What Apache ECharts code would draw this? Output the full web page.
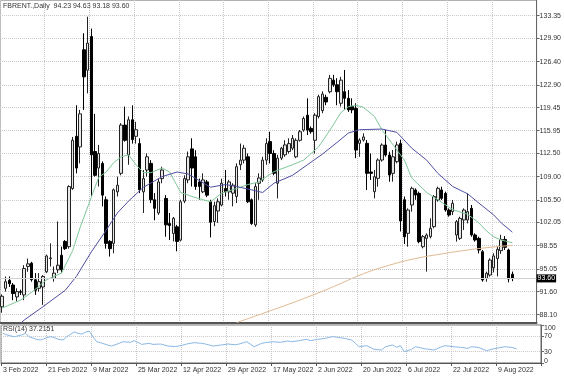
<!DOCTYPE html>
<html lang="en">
<head>
<meta charset="UTF-8">
<title>FBRENT Daily</title>
<style>
  html, body { margin: 0; padding: 0; background: #fff; }
  #main { width: 564px; height: 376px; }
</style>
<script src="https://cdn.jsdelivr.net/npm/echarts@6/dist/echarts.min.js"></script>
</head>
<body>
<div id="main"></div>
<script>
// one bar per trading day, 3 Feb - 16 Aug 2022
var barDates = [
  '3 Feb 2022','4 Feb 2022','7 Feb 2022','8 Feb 2022','9 Feb 2022','10 Feb 2022','11 Feb 2022','14 Feb 2022','15 Feb 2022','16 Feb 2022',
  '17 Feb 2022','18 Feb 2022','21 Feb 2022','22 Feb 2022','23 Feb 2022','24 Feb 2022','25 Feb 2022','28 Feb 2022','1 Mar 2022','2 Mar 2022',
  '3 Mar 2022','4 Mar 2022','7 Mar 2022','8 Mar 2022','9 Mar 2022','10 Mar 2022','11 Mar 2022','14 Mar 2022','15 Mar 2022','16 Mar 2022',
  '17 Mar 2022','18 Mar 2022','21 Mar 2022','22 Mar 2022','23 Mar 2022','24 Mar 2022','25 Mar 2022','28 Mar 2022','29 Mar 2022','30 Mar 2022',
  '31 Mar 2022','1 Apr 2022','4 Apr 2022','5 Apr 2022','6 Apr 2022','7 Apr 2022','8 Apr 2022','11 Apr 2022','12 Apr 2022','13 Apr 2022',
  '14 Apr 2022','18 Apr 2022','19 Apr 2022','20 Apr 2022','21 Apr 2022','22 Apr 2022','25 Apr 2022','26 Apr 2022','27 Apr 2022','28 Apr 2022',
  '29 Apr 2022','2 May 2022','3 May 2022','4 May 2022','5 May 2022','6 May 2022','9 May 2022','10 May 2022','11 May 2022','12 May 2022',
  '13 May 2022','16 May 2022','17 May 2022','18 May 2022','19 May 2022','20 May 2022','23 May 2022','24 May 2022','25 May 2022','26 May 2022',
  '27 May 2022','30 May 2022','31 May 2022','1 Jun 2022','2 Jun 2022','3 Jun 2022','6 Jun 2022','7 Jun 2022','8 Jun 2022','9 Jun 2022',
  '10 Jun 2022','13 Jun 2022','14 Jun 2022','15 Jun 2022','16 Jun 2022','17 Jun 2022','20 Jun 2022','21 Jun 2022','22 Jun 2022','23 Jun 2022',
  '24 Jun 2022','27 Jun 2022','28 Jun 2022','29 Jun 2022','30 Jun 2022','1 Jul 2022','4 Jul 2022','5 Jul 2022','6 Jul 2022','7 Jul 2022',
  '8 Jul 2022','11 Jul 2022','12 Jul 2022','13 Jul 2022','14 Jul 2022','15 Jul 2022','18 Jul 2022','19 Jul 2022','20 Jul 2022','21 Jul 2022',
  '22 Jul 2022','25 Jul 2022','26 Jul 2022','27 Jul 2022','28 Jul 2022','29 Jul 2022','1 Aug 2022','2 Aug 2022','3 Aug 2022','4 Aug 2022',
  '5 Aug 2022','8 Aug 2022','9 Aug 2022','10 Aug 2022','11 Aug 2022','12 Aug 2022','15 Aug 2022','16 Aug 2022'
];

var opens = [
  89.3,92.1,93.3,92.6,90.8,91.6,91.1,95.4,95.9,93.4,
  92.1,92.3,94.6,96.6,93.6,94.9,97.1,99.2,98.4,107.2,
  115.1,113.5,128.2,125.1,130.2,112.8,110.3,111.0,105.5,99.2,
  98.9,106.7,109.5,116.8,112.3,117.6,115.1,114.0,106.7,110.0,
  111.0,105.5,103.5,108.7,105.7,101.9,100.4,101.4,99.4,105.3,
  108.5,113.2,112.0,108.2,106.7,108.2,105.2,102.2,103.8,104.7,
  107.2,106.7,106.5,106.0,110.8,111.5,112.0,105.5,101.7,108.0,
  108.5,111.5,114.3,112.5,108.0,111.8,112.3,112.8,113.3,112.0,
  114.5,116.05,118.3,116.3,114.5,118.1,119.0,121.0,121.85,123.6,
  122.9,120.1,121.85,120.85,119.6,119.33,114.04,114.54,114.04,109.7,
  106.72,108.74,111.51,113.78,112.27,109.5,111.26,114.0,105.5,100.42,
  104.71,106.98,106.47,98.40,99.66,99.91,101.43,105.46,106.98,106.47,
  103.95,103.70,100.17,99.66,102.44,102.44,104.20,100.17,99.66,97.64,
  93.61,94.11,95.2,96.6,97.8,99.5,97.9,94.23
];
var highs = [
  91.2,93.9,93.9,92.9,92.1,91.9,95.6,96.6,96.1,94.4,
  94.4,94.1,97.2,98.9,95.4,102.2,98.4,99.4,107.7,115.0,
  119.8,119.1,130.7,133.2,131.4,118.5,113.8,111.3,106.0,99.4,
  107.2,109.0,117.1,119.6,118.1,119.8,117.3,114.8,110.0,112.5,
  111.5,106.5,108.7,110.5,106.2,103.5,102.9,101.7,105.5,109.2,
  112.8,114.8,113.0,108.7,109.5,108.5,105.5,105.2,105.7,108.7,
  110.0,108.5,108.0,111.0,114.0,113.8,112.5,105.7,108.0,109.5,
  112.0,114.8,115.8,113.0,112.3,113.5,114.5,114.8,115.3,114.8,
  116.05,118.1,120.85,116.6,118.6,121.4,121.9,121.4,124.4,124.4,
  123.9,124.1,125.13,122.1,120.85,120.1,114.8,115.55,114.54,112.5,
  109.99,111.77,114.04,116.05,112.77,113.03,114.29,114.6,106.0,104.2,
  107.48,107.23,106.73,100.17,100.42,102.69,106.22,107.48,107.48,106.73,
  104.20,105.46,102.44,102.94,104.20,106.47,104.71,100.42,99.91,97.90,
  94.62,96.64,97.4,98.5,100.2,100.0,98.1,94.63
];
var lows = [
  88.4,91.6,92.3,90.3,90.1,91.1,90.3,94.6,93.1,91.1,
  91.6,89.6,94.4,95.4,93.1,94.4,94.4,97.9,98.1,107.0,
  109.5,111.0,119.1,121.6,106.0,109.0,107.5,104.5,98.1,96.9,
  97.4,106.0,109.2,114.3,110.8,114.0,114.0,106.5,103.5,109.0,
  105.0,102.4,103.2,108.0,99.9,99.4,99.2,97.7,99.2,105.0,
  108.0,107.5,107.0,105.5,106.5,105.9,99.8,101.5,102.0,104.5,
  106.0,105.5,104.5,105.0,110.0,111.0,105.0,101.7,101.4,105.5,
  108.2,110.8,111.0,109.2,105.7,111.5,112.0,112.5,113.0,111.8,
  114.3,115.8,115.3,115.5,112.5,117.8,118.6,119.8,121.6,122.6,
  119.8,119.6,119.1,118.8,118.6,111.8,112.0,114.3,106.97,108.5,
  105.71,107.48,111.26,112.02,108.23,108.24,111.01,100.7,98.8,98.4,
  103.70,105.5,98.91,98.15,94.62,99.66,101.18,105.21,105.46,103.70,
  102.94,103.19,99.16,99.41,100.92,101.93,99.91,99.16,97.39,93.10,
  93.10,93.86,94.5,93.9,97.3,97.9,93.0,93.18
];
var closes = [
  90.9,93.1,92.8,91.3,91.6,91.5,95.1,95.8,93.4,91.8,
  93.1,93.9,97.0,96.7,94.4,95.6,94.9,98.1,107.5,114.5,
  110.3,118.5,124.1,129.2,112.3,109.2,112.5,106.2,98.9,98.1,
  107.0,107.7,116.8,114.5,117.6,114.6,116.1,107.0,108.7,112.0,
  105.5,104.2,108.2,110.0,101.7,101.6,102.7,99.2,105.2,108.7,
  112.0,110.3,107.5,107.5,108.5,106.2,102.1,104.6,105.2,108.0,
  106.7,108.2,107.7,110.5,111.5,113.3,105.2,101.9,107.5,108.8,
  111.5,114.0,112.5,109.5,111.8,113.3,113.8,114.0,114.8,114.5,
  115.8,117.8,116.05,115.8,118.3,121.1,121.5,120.3,123.87,122.9,
  121.85,123.6,120.85,119.1,119.1,113.03,114.54,115.0,109.5,109.5,
  108.99,111.51,113.78,112.27,109.24,112.0,113.79,102.3,99.9,103.95,
  107.23,106.22,99.16,99.91,100.17,101.18,105.97,107.23,105.72,103.95,
  103.19,104.96,102.18,102.69,103.95,103.70,100.17,99.41,97.90,93.36,
  94.37,96.38,97.0,98.0,99.5,98.3,93.5,93.60
];

// moving averages: [bar index, price]
var maFast = [[0,89.1],[5,90.3],[8,91.5],[12,93.4],[16,94.4],[19,97.8],[21,101.3],[24,105.9],[26,108.9],[28,109.7],
  [30,111.1],[32,112.0],[34,112.3],[36,110.8],[38,109.6],[40,109.6],[43,110.3],[45,109.7],[48,106.6],[51,106.0],
  [54,105.5],[56,105.2],[59,106.5],[63,107.2],[66,107.8],[69,108.2],[73,109.75],[78,110.8],[81,111.5],[85,113.5],
  [88,116.0],[91,118.7],[93,119.6],[95,119.8],[97,119.5],[100,118.1],[102,116.1],[105,113.8],[108,111.5],[110,108.8],
  [114,106.6],[117,105.5],[121,104.0],[125,103.3],[128,102.0],[130,100.8],[132,99.9],[134,99.4],[137,99.0]];
var maMid = [[5,86.8],[6,87.3],[11,89.3],[17,91.8],[20,93.9],[24,97.6],[28,100.9],[31,103.5],[34,105.3],[38,107.4],
  [43,109.0],[47,109.7],[50,109.4],[53,108.4],[56,107.4],[60,107.8],[63,107.5],[67,107.0],[70,106.6],[73,108.0],
  [78,109.2],[82,110.8],[86,112.4],[90,114.2],[93,115.6],[96,116.1],[102,116.2],[106,115.7],[110,113.3],[114,111.5],
  [117,109.5],[121,107.5],[125,106.4],[128,105.0],[132,103.2],[134,102.0],[137,100.6]];
var maSlow = [[63,86.9],[70,88.3],[77,89.7],[84,91.2],[90,92.6],[97,94.3],[104,95.6],[111,96.6],[118,97.3],[125,97.9],[131,98.3],[137,98.6]];

// RSI(14): [bar index, value]
var rsi = [[0,78],[1,74],[3,69],[5,74],[6,78],[7,69],[9,62],[10,60.5],[12,67.6],[13,69],[15,62],[16,60.5],[17,69],
  [19,82],[20,78],[21,76],[22,81],[23,84],[24,69],[25,56],[26,53.5],[28,47],[29,44.7],[31,51.8],[32,56],[34,54.4],
  [35,58.7],[36,54.4],[37,49],[39,51.8],[40,49],[42,50],[44,44.7],[46,43],[48,47],[49,50],[51,53.5],[53,51.8],[54,50],
  [56,44.7],[58,47],[60,50],[62,48],[63,50],[65,56],[67,43],[69,51.8],[70,53.5],[72,56],[74,54.4],[76,57.9],[77,56],
  [79,58.8],[81,62.3],[82,58.8],[84,62.3],[86,65],[87,67.5],[88,69.3],[90,66.6],[91,65],[93,60.5],[94,51.8],[95,43],
  [97,45.6],[99,36],[101,34.2],[102,43],[104,47.4],[105,41.2],[106,45.6],[107,29.8],[109,36],[110,43],[112,38.6],
  [113,36.8],[115,34.2],[117,43],[118,45.6],[120,43],[122,41.2],[124,38.6],[125,43],[127,40.4],[129,32.5],[131,37.7],
  [132,39.5],[134,43],[136,40.4],[137,37.2]];
var rsiLast = '37.2151';

var priceTicks = [88.10, 91.60, 95.05, 98.55, 102.05, 105.50, 109.00, 112.50, 115.95, 119.45, 122.90, 126.40, 129.90, 133.35];
var rsiTicks = [0, 30, 70, 100];
var symbolName = 'FBRENT.,Daily';

var FONT = "'Liberation Sans', Arial, sans-serif";
var FS = 7;
var TXT = '#333';
var GRIDC = '#c8c8c8';

var categories = barDates.concat(['', '', '', '', '', '']);   // empty shift on the right
var candles = opens.map(function (o, i) { return [o, closes[i], lows[i], highs[i]]; });
var last = opens.length - 1;
var header = symbolName + '  ' + [opens[last], highs[last], lows[last], closes[last]].map(function (v) { return v.toFixed(2); }).join(' ');

function dateTick(i) { return i % 12 === 0 && i < barDates.length; }

var myChart = echarts.init(document.getElementById('main'));
var option = {
  animation: false,
  backgroundColor: '#fff',
  grid: [
    { left: 0, right: 23, top: 0, height: 323, show: true, borderColor: '#666', borderWidth: 1 },
    { left: 0, right: 23, top: 325, height: 38, show: true, borderColor: '#666', borderWidth: 1 }
  ],
  xAxis: [
    {
      type: 'category', gridIndex: 0, data: categories, boundaryGap: true,
      axisLine: { show: true, onZero: false, lineStyle: { color: '#555', width: 2 } },
      axisTick: { show: false }, axisLabel: { show: false },
      splitLine: { show: true, interval: dateTick, lineStyle: { type: 'dotted', color: GRIDC } }
    },
    {
      type: 'category', gridIndex: 1, data: categories, boundaryGap: true,
      axisLine: { show: true, onZero: false, lineStyle: { color: '#555' } },
      axisTick: { show: true, interval: dateTick, length: 3, lineStyle: { color: '#555' } },
      axisLabel: { interval: dateTick, align: 'left', fontSize: FS, color: TXT, margin: 4, fontFamily: FONT },
      splitLine: { show: true, interval: dateTick, lineStyle: { type: 'dotted', color: GRIDC } }
    }
  ],
  yAxis: [
    {
      type: 'value', gridIndex: 0, position: 'right', min: 86.85, max: 135.73, scale: true,
      axisLine: { show: true, lineStyle: { color: '#666' } },
      axisTick: { show: true, length: 3, customValues: priceTicks, lineStyle: { color: '#666' } },
      axisLabel: { customValues: priceTicks, margin: 3, fontSize: FS, color: TXT, fontFamily: FONT,
        formatter: function (v) { return v.toFixed(2); } },
      splitLine: { show: true, lineStyle: { type: 'dotted', color: GRIDC } }
    },
    {
      type: 'value', gridIndex: 1, position: 'right', min: 0, max: 100,
      axisLine: { show: true, lineStyle: { color: '#666' } },
      axisTick: { show: true, length: 3, customValues: rsiTicks, lineStyle: { color: '#666' } },
      axisLabel: { customValues: rsiTicks, margin: 3, fontSize: FS, color: TXT, fontFamily: FONT,
        formatter: function (v) { return v === 100 ? '{t|100}' : (v === 0 ? '{b|0}' : String(v)); },
        rich: {
          t: { fontSize: FS, fontFamily: FONT, color: TXT, padding: [7, 0, 0, 0] },
          b: { fontSize: FS, fontFamily: FONT, color: TXT, padding: [0, 0, 4, 0] }
        } },
      splitLine: { show: true, lineStyle: { type: 'dotted', color: GRIDC } }
    }
  ],
  graphic: [
    { type: 'text', left: 3, top: 3, style: { text: header, fontSize: FS, fontFamily: FONT, fill: TXT } },
    { type: 'text', left: 3, top: 326, style: { text: 'RSI(14) ' + rsiLast, fontSize: FS, fontFamily: FONT, fill: TXT } }
  ],
  series: [
    {
      name: 'FBRENT', type: 'candlestick', xAxisIndex: 0, yAxisIndex: 0, data: candles, barWidth: 3,
      itemStyle: { color: '#e8e8e8', color0: '#000', borderColor: '#222', borderColor0: '#000', borderWidth: 1 },
      markLine: {
        silent: true, symbol: 'none',
        lineStyle: { color: '#d0d0d0', type: 'solid', width: 1 },
        label: { position: 'end', distance: 0, formatter: closes[last].toFixed(2), backgroundColor: '#000',
          color: '#fff', fontSize: FS, fontFamily: FONT, padding: [1, 1, 0, 1] },
        data: [{ yAxis: closes[last] }]
      }
    },
    { name: 'MA fast', type: 'line', xAxisIndex: 0, yAxisIndex: 0, data: maFast, showSymbol: false,
      lineStyle: { color: '#7fc79a', width: 1 } },
    { name: 'MA mid', type: 'line', xAxisIndex: 0, yAxisIndex: 0, data: maMid, showSymbol: false,
      lineStyle: { color: '#4f4fa3', width: 1 } },
    { name: 'MA slow', type: 'line', xAxisIndex: 0, yAxisIndex: 0, data: maSlow, showSymbol: false, smooth: true,
      lineStyle: { color: '#deb98f', width: 1 } },
    { name: 'RSI', type: 'line', xAxisIndex: 1, yAxisIndex: 1, data: rsi, showSymbol: false,
      lineStyle: { color: '#88b8e4', width: 1 } }
  ]
};
option && myChart.setOption(option);
</script>
</body>
</html>
